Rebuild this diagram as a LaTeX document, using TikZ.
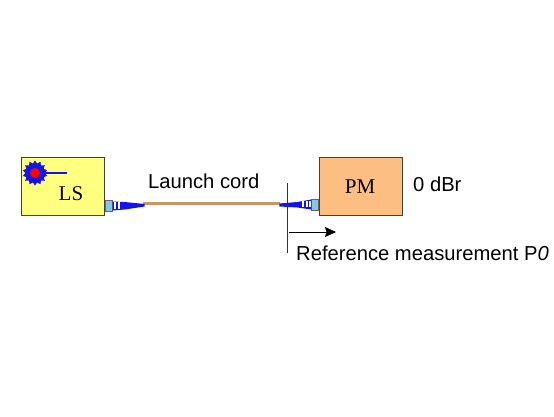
\documentclass[tikz,border=0pt]{standalone}
\usepackage{fontspec}
\setmainfont{Liberation Sans}
\newfontfamily\boxfont{Liberation Serif}
\usetikzlibrary{positioning,arrows.meta,shapes.geometric}
\definecolor{lsyellow}{RGB}{255,255,128}
\definecolor{pmorange}{RGB}{253,190,130}
\definecolor{cordtan}{RGB}{200,150,100}
\definecolor{plugblue}{RGB}{20,20,230}
\definecolor{ferrule}{RGB}{130,200,235}
\tikzset{
  unit/.style    = {draw=black!75, line width=1pt, minimum width=83pt, minimum height=58pt, inner sep=0pt},
  unitname/.style = {inner sep=0pt, font=\boxfont\fontsize{21}{21}\selectfont},
  plug/.style    = {draw=black!60, line width=0.6pt, fill=ferrule, minimum width=7pt, minimum height=11pt, inner sep=0pt},
  label/.style   = {inner sep=0pt, font=\fontsize{20.2}{24}\selectfont},
  flow/.style    = {-{Stealth[length=11pt,width=10pt,inset=1.5pt]}, line width=0.7pt, draw=black},
  cord/.style    = {line width=3pt, draw=cordtan},
  boot/.style    = {fill=plugblue, draw=none},
  collar/.style  = {fill=white, draw=none},
}
\begin{document}
\begin{tikzpicture}[x=1pt, y=-1pt]
  \useasboundingbox[fill=white] (0,0) rectangle (554,416);
  \node[unit, fill=lsyellow, anchor=north west] (ls) at (21,157) {};
  \node[unit, fill=pmorange, anchor=north west] (pm) at (319,157) {};
  \node[unitname] (lstext) at (71,194) {LS};
  \node[unitname] (pmtext) at (360,187) {PM};
  % plugs
  \node[plug, right=0pt of ls.east, yshift=-19pt] (lsplug) {};
  \node[plug, left=0pt of pm.west, yshift=-18pt] (pmplug) {};
  \coordinate (lsend) at (143,203);
  \coordinate (pmend) at (280,203);
  \draw[cord] (lsend) -- (pmend);
  \fill[boot] (lsplug.east) ++(0,-4) -- ++(12,0.5) -- ++(20,2) -- ++(0,2.5) -- ++(-20,3) -- ++(-12,1) -- cycle;
  \fill[boot] (pmplug.west) ++(0,-5) -- ++(-14,2.5) -- ++(-18,1.5) -- ++(0,3) -- ++(18,1) -- ++(14,2) -- cycle;
  \foreach \x in {114,118}{
    \fill[collar] (\x,202) rectangle ++(1.8,6.5);
  }
  \foreach \x in {302,306,309}{
    \fill[collar] (\x,200.5) rectangle ++(1.5,6);
  }
  % laser
  \node[star, star points=14, star point ratio=1.3, minimum size=25pt, inner sep=0pt, fill=plugblue] (burst) at (35,173) {};
  \node[circle, fill=red, minimum size=10pt, inner sep=0pt] (spot) at (burst.center) {};
  \coordinate (beam) at (67,173);
  \draw[line width=1.3pt, draw=plugblue] (burst.center) ++(9,0) -- (beam);
  % labels
  \node[label, anchor=west] (cordtext) at (148,181) {Launch cord};
  \node[label, anchor=west] (dbr) at (413,184) {0 dBr};
  \node[label, anchor=west] (reftext) at (296,253) {Reference measurement P\textit{0}};
  % reference plane
  \coordinate (planetop) at (287,183);
  \coordinate (planebot) at (287,253);
  \coordinate (arrowfrom) at (289,232);
  \coordinate (arrowto) at (336,232);
  \draw[line width=0.7pt, draw=black!80] (planetop) -- (planebot);
  \draw[flow] (arrowfrom) -- (arrowto);
\end{tikzpicture}
\end{document}
